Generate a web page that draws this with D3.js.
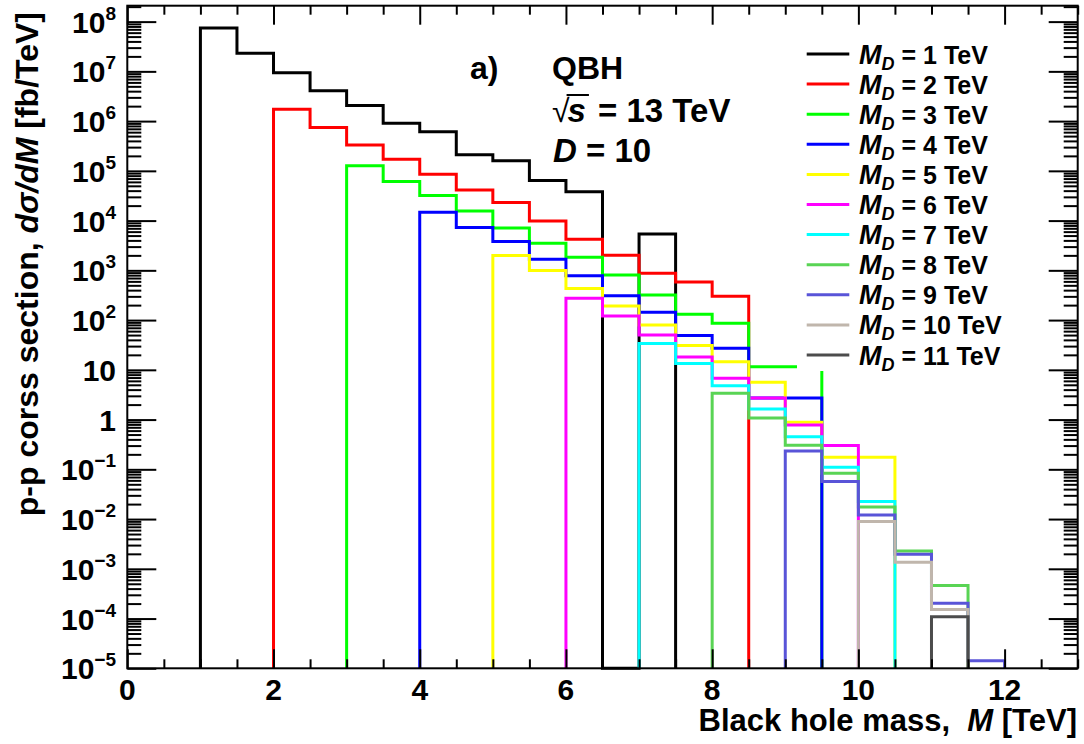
<!DOCTYPE html>
<html>
<head>
<meta charset="utf-8">
<script src="https://cdn.jsdelivr.net/npm/d3@7"></script>
<style>
  html, body { margin: 0; padding: 0; background: #fff; }
  svg { display: block; }
  text { font-family: "Liberation Sans", Arial, sans-serif; font-weight: bold; fill: #000; }
</style>
</head>
<body>
<svg id="chart" width="1084" height="744"></svg>
<script>
// ---------------- DATA ----------------
const binWidth = 0.5;                       // TeV
const mdValues = [1, 2, 3, 4, 5, 6, 7, 8, 9, 10, 11];   // M_D in TeV (also first bin edge)
const seriesColors = ["#000000", "#ff0000", "#00ff00", "#0000ff", "#ffff00", "#ff00ff",
                      "#00ffff", "#59d454", "#5954d8", "#c0b6ac", "#4c4c4c"];

// d sigma / dM [fb/TeV], one value per 0.5 TeV bin starting at M = M_D
const xsecMD1  = [7.4e7, 2.3e7, 9.4e6, 4.1e6, 2.05e6, 9.1e5, 6.1e5, 2.1e5, 1.6e5, 6.4e4, 3.8e4, 0, 5.4e3];
const xsecMD2  = [1.73e6, 7.4e5, 3.3e5, 1.71e5, 8.5e4, 4.1e4, 2.3e4, 9.8e3, 4.2e3, 2.0e3, 870, 580, 300];
const xsecMD3  = [1.27e5, 6.1e4, 3.2e4, 1.56e4, 7.1e3, 3.5e3, 1.83e3, 810, 320, 131, 86, 11.6, 11.6];
const xsecMD4  = [1.47e4, 7.3e3, 3.8e3, 1.67e3, 780, 310, 144, 49, 27, 2.7, 2.7];
const xsecMD5  = [1.98e3, 990, 430, 192, 80, 31, 14.6, 5.6, 0.88, 0.175, 0.175];
const xsecMD6  = [275, 121, 50, 18.2, 6.8, 2.7, 0.78, 0.30];
const xsecMD7  = [34, 13.4, 4.8, 1.64, 0.45, 0.11, 0.0226];
const xsecMD8  = [3.4, 1.08, 0.305, 0.083, 0.0175, 0.00229, 4.6e-4];
const xsecMD9  = [0.234, 0.057, 0.0121, 0.00196, 2.03e-4, 1.42e-5];
const xsecMD10 = [0.0089, 0.00136, 1.52e-4];
const xsecMD11 = [1.09e-4];
const allSeries = [xsecMD1, xsecMD2, xsecMD3, xsecMD4, xsecMD5, xsecMD6,
                   xsecMD7, xsecMD8, xsecMD9, xsecMD10, xsecMD11];

const xTickValues = [0, 2, 4, 6, 8, 10, 12];
const yTickValues = [1e8, 1e7, 1e6, 1e5, 1e4, 1e3, 1e2, 10, 1, 1e-1, 1e-2, 1e-3, 1e-4, 1e-5];
const yTickBases  = ["10", "10", "10", "10", "10", "10", "10", "10", "1", "10", "10", "10", "10", "10"];
const yTickExps   = ["8", "7", "6", "5", "4", "3", "2", "", "", "\u22121", "\u22122", "\u22123", "\u22124", "\u22125"];

const infoLines = ["QBH", "13 TeV", "10"];

// ---------------- LAYOUT ----------------
const L = 127.3, R = 1077.7, T = 5.7, B = 668.3;
const svg = d3.select("#chart");
const x = d3.scaleLinear().domain([0, 13]).range([L, R]);
const y = d3.scaleLog().domain([1e-5, Math.pow(10, 8.32)]).range([B, T]);

// ---------------- HISTOGRAMS ----------------
const yc = v => (v > 1e-5 ? y(v) : B);
const line = d3.line().x(d => x(d[0])).y(d => yc(d[1]));

allSeries.forEach((vals, i) => {
  const s = mdValues[i];
  const pts = [[s, 0]];
  vals.forEach((v, k) => {
    pts.push([s + k * binWidth, v]);
    pts.push([s + (k + 1) * binWidth, v]);
  });
  pts.push([s + vals.length * binWidth, 0]);
  svg.append("path")
    .attr("d", line(pts))
    .attr("fill", "none")
    .attr("stroke", seriesColors[i])
    .attr("stroke-width", 3)
    .attr("stroke-linejoin", "miter")
    .attr("stroke-linecap", "butt");
});

// ---------------- LEGEND ----------------
const legY0 = 54, legDY = 30.1;
svg.append("rect").attr("x", 797).attr("y", 38).attr("width", 240).attr("height", 333).attr("fill", "#fff");
mdValues.forEach((md, i) => {
  const ly = legY0 + i * legDY;
  svg.append("line").attr("x1", 806.7).attr("x2", 849.3).attr("y1", ly).attr("y2", ly)
    .attr("stroke", seriesColors[i]).attr("stroke-width", 3);
  const t = svg.append("text").attr("x", 859).attr("y", ly + 9.5).style("font-size", "27px");
  t.append("tspan").style("font-style", "italic").text("M");
  t.append("tspan").style("font-style", "italic").style("font-size", "18px").attr("dy", 6).attr("dx", 0).text("D");
  t.append("tspan").attr("dy", -6).attr("dx", 7).style("font-size", "25px").text("= " + md + " TeV");
});

// ---------------- FRAME & AXES ----------------
const yMinor = [];
for (let e = -5; e <= 8; e++) for (let m = 2; m <= 9; m++) {
  const v = m * Math.pow(10, e);
  if (v < Math.pow(10, 8.32)) yMinor.push(v);
}
const xMinor = d3.range(0, 13.01, 0.5).filter(v => v % 2 !== 0);

function styleAxis(g) {
  g.select(".domain").remove();
  g.selectAll(".tick line").attr("stroke", "#000").attr("stroke-width", 2);
  g.selectAll(".tick text").remove();
}
svg.append("g").attr("transform", `translate(${L},0)`)
  .call(d3.axisRight(y).tickValues(yTickValues).tickSize(29).tickFormat("")).call(styleAxis);
svg.append("g").attr("transform", `translate(${L},0)`)
  .call(d3.axisRight(y).tickValues(yMinor).tickSize(14).tickFormat("")).call(styleAxis);
svg.append("g").attr("transform", `translate(${R},0)`)
  .call(d3.axisLeft(y).tickValues(yTickValues).tickSize(29).tickFormat("")).call(styleAxis);
svg.append("g").attr("transform", `translate(${R},0)`)
  .call(d3.axisLeft(y).tickValues(yMinor).tickSize(14).tickFormat("")).call(styleAxis);
svg.append("g").attr("transform", `translate(0,${B})`)
  .call(d3.axisTop(x).tickValues(xTickValues).tickSize(19).tickFormat("")).call(styleAxis);
svg.append("g").attr("transform", `translate(0,${B})`)
  .call(d3.axisTop(x).tickValues(xMinor).tickSize(9).tickFormat("")).call(styleAxis);
svg.append("g").attr("transform", `translate(0,${T})`)
  .call(d3.axisBottom(x).tickValues(xTickValues).tickSize(19).tickFormat("")).call(styleAxis);
svg.append("g").attr("transform", `translate(0,${T})`)
  .call(d3.axisBottom(x).tickValues(xMinor).tickSize(9).tickFormat("")).call(styleAxis);

svg.append("rect").attr("x", L).attr("y", T).attr("width", R - L).attr("height", B - T)
  .attr("fill", "none").attr("stroke", "#000").attr("stroke-width", 2);

// tick labels
xTickValues.forEach(v => {
  svg.append("text").attr("x", x(v)).attr("y", 700).attr("text-anchor", "middle")
    .style("font-size", "30px").text(v);
});
yTickValues.forEach((v, i) => {
  const ty = y(v);
  const t = svg.append("text").attr("x", 116).attr("y", ty + 11).attr("text-anchor", "end")
    .style("font-size", "30px");
  t.append("tspan").text(yTickBases[i]);
  if (yTickExps[i] !== "") {
    t.append("tspan").attr("dy", -13).style("font-size", "19px").text(yTickExps[i]);
  }
});

// axis titles
const xt = svg.append("text").attr("x", 1077).attr("y", 731).attr("text-anchor", "end").style("font-size", "31px");
xt.append("tspan").text("Black hole mass,\u00a0\u00a0");
xt.append("tspan").style("font-style", "italic").text("M");
xt.append("tspan").text(" [TeV]");

const yt = svg.append("text").attr("transform", "translate(38,12) rotate(-90)")
  .attr("text-anchor", "end").style("font-size", "32px");
yt.append("tspan").text("p-p corss section, ");
yt.append("tspan").style("font-style", "italic").text("d\u03c3/dM");
yt.append("tspan").text(" [fb/TeV]");

// info text
svg.append("text").attr("x", 470).attr("y", 79).style("font-size", "32px").text("a)");
svg.append("text").attr("x", 552).attr("y", 79).style("font-size", "32px").text(infoLines[0]);
const g2 = svg.append("g").attr("transform", "translate(552,122)");
const rad = g2.append("text").attr("x", 0).attr("y", 0).style("font-size", "32px").style("font-weight", "normal").text("\u221a");
const rw = rad.node().getComputedTextLength();
const sT = g2.append("text").attr("x", rw - 2).attr("y", 0).style("font-size", "33px").style("font-style", "italic").text("s");
const sw = sT.node().getComputedTextLength();
g2.append("line").attr("x1", rw - 3).attr("x2", rw + sw + 1).attr("y1", -27).attr("y2", -27)
  .attr("stroke", "#000").attr("stroke-width", 2);
g2.append("text").attr("x", 46).attr("y", 0).style("font-size", "33px").text("= " + infoLines[1]);
const t3 = svg.append("text").attr("x", 553).attr("y", 162).style("font-size", "33px");
t3.append("tspan").style("font-style", "italic").text("D");
t3.append("tspan").text("\u00a0= " + infoLines[2]);
</script>
</body>
</html>
